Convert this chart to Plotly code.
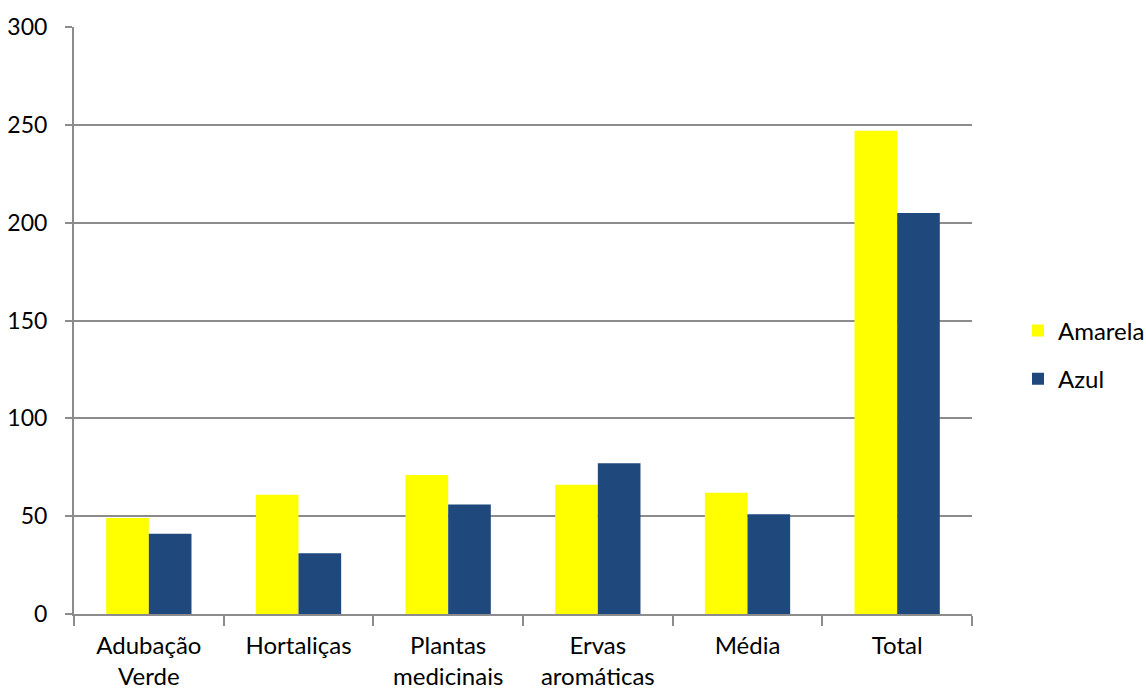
import plotly.graph_objects as go

categories = ["Adubação<br>Verde", "Hortaliças", "Plantas<br>medicinais",
              "Ervas<br>aromáticas", "Média", "Total"]
amarela = [49, 61, 71, 66, 62, 247]
azul = [41, 31, 56, 77, 51, 205]
y_ticks = [0, 50, 100, 150, 200, 250, 300]

font_family = "Lato, Open Sans, sans-serif"
grid_color = "#8c8c8c"

fig = go.Figure()
fig.add_trace(go.Bar(name="Amarela", x=categories, y=amarela,
                     marker=dict(color="#FFFF00", line=dict(width=0)),
                     legendgroup="a"))
fig.add_trace(go.Bar(name="Azul", x=categories, y=azul,
                     marker=dict(color="#1F497D", line=dict(width=0)),
                     legendgroup="b"))

fig.update_layout(
    width=1146, height=691,
    margin=dict(l=74, r=174, t=27, b=77, autoexpand=False),
    paper_bgcolor="white", plot_bgcolor="white",
    barmode="group", bargap=0.43, bargroupgap=0,
    font=dict(family=font_family, size=24, color="black"),
    legend=dict(xref="container", yref="container",
                x=1018 / 1146, y=1 - 355 / 691,
                xanchor="left", yanchor="middle",
                font=dict(size=24), tracegroupgap=14,
                bgcolor="rgba(0,0,0,0)", itemwidth=30),
    showlegend=True,
)
fig.update_xaxes(
    showline=True, linecolor=grid_color, linewidth=2,
    ticks="outside", tickson="boundaries", ticklen=10, tickwidth=2,
    tickcolor=grid_color, showgrid=False,
    tickfont=dict(size=24), ticklabelstandoff=9,
)
fig.update_yaxes(
    range=[0, 300], tickvals=y_ticks,
    showline=True, linecolor=grid_color, linewidth=2,
    ticks="outside", ticklen=7, tickwidth=2, tickcolor=grid_color,
    showgrid=True, gridcolor=grid_color, gridwidth=2,
    zeroline=False, tickfont=dict(size=23), ticklabelstandoff=13,
)

fig.write_html("out.html")
